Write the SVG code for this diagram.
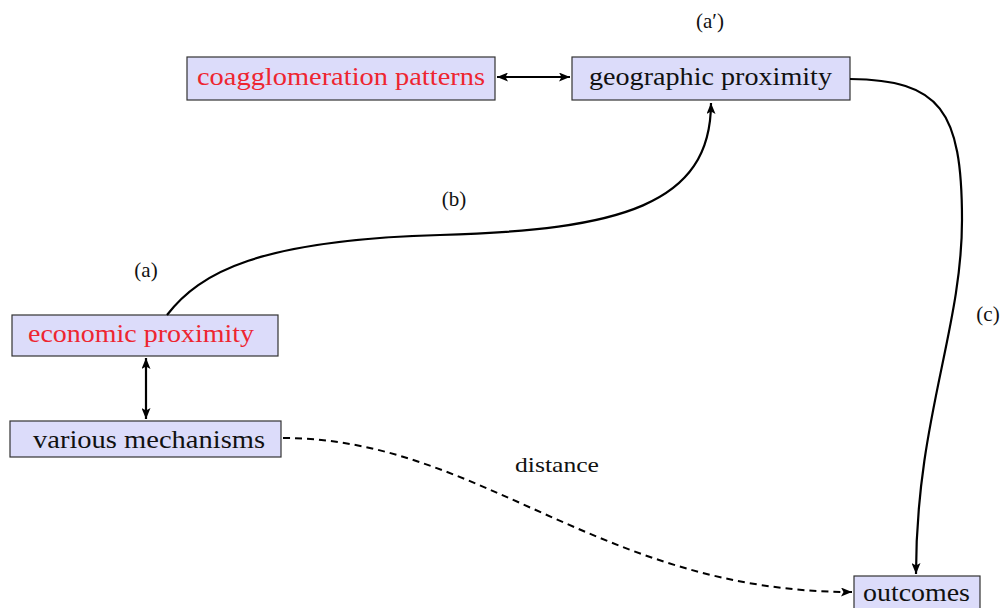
<svg xmlns="http://www.w3.org/2000/svg" width="1002" height="608" viewBox="0 0 1002 608">
<style>
.box{fill:#dcdcfa;stroke:#333;stroke-width:1.2}
.t{font-family:"Liberation Serif","Times New Roman",serif;font-size:25px;fill:#111}
.red{fill:#ee2530}
.lbl{font-family:"Liberation Serif","Times New Roman",serif;font-size:21px;fill:#111}
.c{fill:none;stroke:#000;stroke-width:2.2}
.d{fill:none;stroke:#000;stroke-width:2;stroke-dasharray:7,5}
</style>
<defs>
<marker id="ah" viewBox="0 0 11 9" refX="11" refY="4.5" markerWidth="11" markerHeight="9" markerUnits="userSpaceOnUse" orient="auto-start-reverse">
<path d="M0,0 L11,4.5 L0,9 L2.5,4.5 Z" fill="#000"/>
</marker>
</defs>
<g id="coagglomeration">
<rect class="box" x="187" y="57" width="308" height="43"/>
<text class="t red" x="197" y="85" textLength="288" lengthAdjust="spacingAndGlyphs">coagglomeration patterns</text>
</g>
<g id="geographic">
<rect class="box" x="572" y="57" width="278" height="43"/>
<text class="t" x="589" y="85" textLength="243" lengthAdjust="spacingAndGlyphs">geographic proximity</text>
</g>
<g id="economic">
<rect class="box" x="12" y="315" width="266" height="41"/>
<text class="t red" x="28" y="342" textLength="226" lengthAdjust="spacingAndGlyphs">economic proximity</text>
</g>
<g id="mechanisms">
<rect class="box" x="10" y="421" width="271" height="36"/>
<text class="t" x="33" y="448" textLength="232" lengthAdjust="spacingAndGlyphs">various mechanisms</text>
</g>
<g id="outcomes">
<rect class="box" x="854" y="576" width="126" height="34"/>
<text class="t" x="863" y="601" textLength="107" lengthAdjust="spacingAndGlyphs">outcomes</text>
</g>
<g id="connectors">
<path class="c" d="M497,77 L570,77" marker-start="url(#ah)" marker-end="url(#ah)"/>
<path class="c" d="M146,358 L146,419" marker-start="url(#ah)" marker-end="url(#ah)"/>
<path class="c" d="M167,315 C200,272 260,240 440,235 C620,230 711,205 711,103" marker-end="url(#ah)"/>
<path class="c" d="M850,79 C940,80 962,110 962,220 C962,330 916,420 916,574" marker-end="url(#ah)"/>
<path class="d" d="M283,438 C480,438 600,592 852,592" marker-end="url(#ah)"/>
</g>
<g id="labels">
<text class="lbl" x="710" y="28" text-anchor="middle">(a′)</text>
<text class="lbl" x="454" y="206" text-anchor="middle">(b)</text>
<text class="lbl" x="146" y="277" text-anchor="middle">(a)</text>
<text class="lbl" x="988" y="321" text-anchor="middle">(c)</text>
<text class="lbl" x="557" y="472" text-anchor="middle" textLength="84" lengthAdjust="spacingAndGlyphs">distance</text>
</g>
</svg>
